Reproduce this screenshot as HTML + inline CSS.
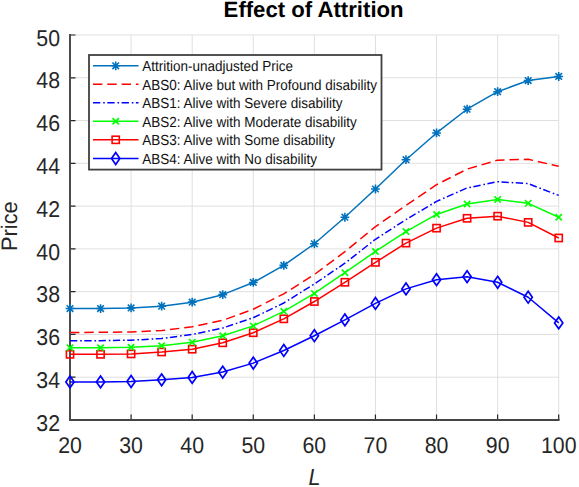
<!DOCTYPE html><html><head><meta charset="utf-8"><style>html,body{margin:0;padding:0;background:#fff;width:579px;height:487px;overflow:hidden}svg{display:block}text{font-family:"Liberation Sans",sans-serif;text-rendering:geometricPrecision}</style></head><body>
<svg width="579" height="487" viewBox="0 0 579 487">
<rect width="579" height="487" fill="#fff"/>
<path d="M131.09 35.00V420.00M192.18 35.00V420.00M253.27 35.00V420.00M314.36 35.00V420.00M375.45 35.00V420.00M436.54 35.00V420.00M497.63 35.00V420.00M558.72 35.00V420.00M70.00 377.22H558.72M70.00 334.45H558.72M70.00 291.67H558.72M70.00 248.89H558.72M70.00 206.11H558.72M70.00 163.33H558.72M70.00 120.56H558.72M70.00 77.78H558.72M70.00 35.00H558.72" stroke="#dfdfdf" stroke-width="1" fill="none"/>
<path d="M70.00 420.00V414.50M131.09 420.00V414.50M192.18 420.00V414.50M253.27 420.00V414.50M314.36 420.00V414.50M375.45 420.00V414.50M436.54 420.00V414.50M497.63 420.00V414.50M558.72 420.00V414.50M70.00 420.00H75.50M70.00 377.22H75.50M70.00 334.45H75.50M70.00 291.67H75.50M70.00 248.89H75.50M70.00 206.11H75.50M70.00 163.33H75.50M70.00 120.56H75.50M70.00 77.78H75.50M70.00 35.00H75.50" stroke="#262626" stroke-width="1.2" fill="none"/>
<path d="M70.00 34.00V420.00H559.52" stroke="#454545" stroke-width="1.9" fill="none"/>
<text transform="translate(70.00 453) scale(1 1.065)" font-size="21.3" fill="#262626" text-anchor="middle">20</text>
<text transform="translate(131.09 453) scale(1 1.065)" font-size="21.3" fill="#262626" text-anchor="middle">30</text>
<text transform="translate(192.18 453) scale(1 1.065)" font-size="21.3" fill="#262626" text-anchor="middle">40</text>
<text transform="translate(253.27 453) scale(1 1.065)" font-size="21.3" fill="#262626" text-anchor="middle">50</text>
<text transform="translate(314.36 453) scale(1 1.065)" font-size="21.3" fill="#262626" text-anchor="middle">60</text>
<text transform="translate(375.45 453) scale(1 1.065)" font-size="21.3" fill="#262626" text-anchor="middle">70</text>
<text transform="translate(436.54 453) scale(1 1.065)" font-size="21.3" fill="#262626" text-anchor="middle">80</text>
<text transform="translate(497.63 453) scale(1 1.065)" font-size="21.3" fill="#262626" text-anchor="middle">90</text>
<text transform="translate(558.72 453) scale(1 1.065)" font-size="21.3" fill="#262626" text-anchor="middle">100</text>
<text transform="translate(60 430.70) scale(1 1.07)" font-size="21.3" fill="#262626" text-anchor="end">32</text>
<text transform="translate(60 387.92) scale(1 1.07)" font-size="21.3" fill="#262626" text-anchor="end">34</text>
<text transform="translate(60 345.15) scale(1 1.07)" font-size="21.3" fill="#262626" text-anchor="end">36</text>
<text transform="translate(60 302.37) scale(1 1.07)" font-size="21.3" fill="#262626" text-anchor="end">38</text>
<text transform="translate(60 259.59) scale(1 1.07)" font-size="21.3" fill="#262626" text-anchor="end">40</text>
<text transform="translate(60 216.81) scale(1 1.07)" font-size="21.3" fill="#262626" text-anchor="end">42</text>
<text transform="translate(60 174.03) scale(1 1.07)" font-size="21.3" fill="#262626" text-anchor="end">44</text>
<text transform="translate(60 131.26) scale(1 1.07)" font-size="21.3" fill="#262626" text-anchor="end">46</text>
<text transform="translate(60 88.48) scale(1 1.07)" font-size="21.3" fill="#262626" text-anchor="end">48</text>
<text transform="translate(60 45.70) scale(1 1.07)" font-size="21.3" fill="#262626" text-anchor="end">50</text>
<text x="313.6" y="16.7" font-size="22.15" font-weight="bold" fill="#000" text-anchor="middle">Effect of Attrition</text>
<text transform="translate(16.9 226.1) rotate(-90) scale(1 1.03)" font-size="21.8" fill="#262626" text-anchor="middle">Price</text>
<text transform="translate(314.6 485) scale(1 1.08)" font-size="21.5" font-style="italic" fill="#262626" text-anchor="middle">L</text>
<polyline points="70.00,381.93 100.55,381.93 131.09,381.50 161.63,379.79 192.18,377.44 222.72,372.09 253.27,363.11 283.81,350.49 314.36,335.73 344.90,319.90 375.45,303.43 406.00,288.89 436.54,279.69 467.08,276.70 497.63,282.26 528.17,297.23 558.72,322.90" stroke="#0000ff" stroke-width="1.5" fill="none" stroke-linejoin="round"/>
<path d="M70.00 376.03L74.15 381.93L70.00 387.83L65.85 381.93Z" stroke="#0000ff" stroke-width="1.7" fill="none"/>
<path d="M100.55 376.03L104.70 381.93L100.55 387.83L96.39 381.93Z" stroke="#0000ff" stroke-width="1.7" fill="none"/>
<path d="M131.09 375.60L135.24 381.50L131.09 387.40L126.94 381.50Z" stroke="#0000ff" stroke-width="1.7" fill="none"/>
<path d="M161.63 373.89L165.78 379.79L161.63 385.69L157.48 379.79Z" stroke="#0000ff" stroke-width="1.7" fill="none"/>
<path d="M192.18 371.54L196.33 377.44L192.18 383.34L188.03 377.44Z" stroke="#0000ff" stroke-width="1.7" fill="none"/>
<path d="M222.72 366.19L226.88 372.09L222.72 377.99L218.57 372.09Z" stroke="#0000ff" stroke-width="1.7" fill="none"/>
<path d="M253.27 357.21L257.42 363.11L253.27 369.01L249.12 363.11Z" stroke="#0000ff" stroke-width="1.7" fill="none"/>
<path d="M283.81 344.59L287.96 350.49L283.81 356.39L279.67 350.49Z" stroke="#0000ff" stroke-width="1.7" fill="none"/>
<path d="M314.36 329.83L318.51 335.73L314.36 341.63L310.21 335.73Z" stroke="#0000ff" stroke-width="1.7" fill="none"/>
<path d="M344.90 314.00L349.05 319.90L344.90 325.80L340.75 319.90Z" stroke="#0000ff" stroke-width="1.7" fill="none"/>
<path d="M375.45 297.53L379.60 303.43L375.45 309.33L371.30 303.43Z" stroke="#0000ff" stroke-width="1.7" fill="none"/>
<path d="M406.00 282.99L410.14 288.89L406.00 294.79L401.85 288.89Z" stroke="#0000ff" stroke-width="1.7" fill="none"/>
<path d="M436.54 273.79L440.69 279.69L436.54 285.59L432.39 279.69Z" stroke="#0000ff" stroke-width="1.7" fill="none"/>
<path d="M467.08 270.80L471.23 276.70L467.08 282.60L462.94 276.70Z" stroke="#0000ff" stroke-width="1.7" fill="none"/>
<path d="M497.63 276.36L501.78 282.26L497.63 288.16L493.48 282.26Z" stroke="#0000ff" stroke-width="1.7" fill="none"/>
<path d="M528.17 291.33L532.32 297.23L528.17 303.13L524.02 297.23Z" stroke="#0000ff" stroke-width="1.7" fill="none"/>
<path d="M558.72 317.00L562.87 322.90L558.72 328.80L554.57 322.90Z" stroke="#0000ff" stroke-width="1.7" fill="none"/>
<polyline points="70.00,354.34 100.55,354.34 131.09,353.91 161.63,351.98 192.18,349.20 222.72,342.79 253.27,332.73 283.81,318.83 314.36,301.51 344.90,282.26 375.45,262.37 406.00,243.11 436.54,228.14 467.08,218.30 497.63,216.16 528.17,222.37 558.72,237.98" stroke="#ff0000" stroke-width="1.5" fill="none" stroke-linejoin="round"/>
<rect x="66.40" y="350.74" width="7.20" height="7.20" stroke="#ff0000" stroke-width="1.6" fill="none"/>
<rect x="96.95" y="350.74" width="7.20" height="7.20" stroke="#ff0000" stroke-width="1.6" fill="none"/>
<rect x="127.49" y="350.31" width="7.20" height="7.20" stroke="#ff0000" stroke-width="1.6" fill="none"/>
<rect x="158.03" y="348.38" width="7.20" height="7.20" stroke="#ff0000" stroke-width="1.6" fill="none"/>
<rect x="188.58" y="345.60" width="7.20" height="7.20" stroke="#ff0000" stroke-width="1.6" fill="none"/>
<rect x="219.12" y="339.19" width="7.20" height="7.20" stroke="#ff0000" stroke-width="1.6" fill="none"/>
<rect x="249.67" y="329.13" width="7.20" height="7.20" stroke="#ff0000" stroke-width="1.6" fill="none"/>
<rect x="280.21" y="315.23" width="7.20" height="7.20" stroke="#ff0000" stroke-width="1.6" fill="none"/>
<rect x="310.76" y="297.91" width="7.20" height="7.20" stroke="#ff0000" stroke-width="1.6" fill="none"/>
<rect x="341.30" y="278.66" width="7.20" height="7.20" stroke="#ff0000" stroke-width="1.6" fill="none"/>
<rect x="371.85" y="258.77" width="7.20" height="7.20" stroke="#ff0000" stroke-width="1.6" fill="none"/>
<rect x="402.39" y="239.51" width="7.20" height="7.20" stroke="#ff0000" stroke-width="1.6" fill="none"/>
<rect x="432.94" y="224.54" width="7.20" height="7.20" stroke="#ff0000" stroke-width="1.6" fill="none"/>
<rect x="463.48" y="214.70" width="7.20" height="7.20" stroke="#ff0000" stroke-width="1.6" fill="none"/>
<rect x="494.03" y="212.56" width="7.20" height="7.20" stroke="#ff0000" stroke-width="1.6" fill="none"/>
<rect x="524.57" y="218.77" width="7.20" height="7.20" stroke="#ff0000" stroke-width="1.6" fill="none"/>
<rect x="555.12" y="234.38" width="7.20" height="7.20" stroke="#ff0000" stroke-width="1.6" fill="none"/>
<polyline points="70.00,347.71 100.55,347.71 131.09,347.28 161.63,345.78 192.18,342.15 222.72,335.73 253.27,325.89 283.81,311.35 314.36,293.38 344.90,272.63 375.45,251.46 406.00,231.56 436.54,214.45 467.08,203.97 497.63,199.48 528.17,203.33 558.72,217.23" stroke="#00ff00" stroke-width="1.5" fill="none" stroke-linejoin="round"/>
<path d="M66.85 344.56L73.15 350.86M66.85 350.86L73.15 344.56" stroke="#00ff00" stroke-width="1.7" fill="none"/>
<path d="M97.39 344.56L103.70 350.86M97.39 350.86L103.70 344.56" stroke="#00ff00" stroke-width="1.7" fill="none"/>
<path d="M127.94 344.13L134.24 350.43M127.94 350.43L134.24 344.13" stroke="#00ff00" stroke-width="1.7" fill="none"/>
<path d="M158.48 342.63L164.78 348.93M158.48 348.93L164.78 342.63" stroke="#00ff00" stroke-width="1.7" fill="none"/>
<path d="M189.03 339.00L195.33 345.30M189.03 345.30L195.33 339.00" stroke="#00ff00" stroke-width="1.7" fill="none"/>
<path d="M219.57 332.58L225.88 338.88M219.57 338.88L225.88 332.58" stroke="#00ff00" stroke-width="1.7" fill="none"/>
<path d="M250.12 322.74L256.42 329.04M250.12 329.04L256.42 322.74" stroke="#00ff00" stroke-width="1.7" fill="none"/>
<path d="M280.67 308.20L286.96 314.50M280.67 314.50L286.96 308.20" stroke="#00ff00" stroke-width="1.7" fill="none"/>
<path d="M311.21 290.23L317.51 296.53M311.21 296.53L317.51 290.23" stroke="#00ff00" stroke-width="1.7" fill="none"/>
<path d="M341.75 269.48L348.05 275.78M341.75 275.78L348.05 269.48" stroke="#00ff00" stroke-width="1.7" fill="none"/>
<path d="M372.30 248.31L378.60 254.61M372.30 254.61L378.60 248.31" stroke="#00ff00" stroke-width="1.7" fill="none"/>
<path d="M402.85 228.41L409.14 234.71M402.85 234.71L409.14 228.41" stroke="#00ff00" stroke-width="1.7" fill="none"/>
<path d="M433.39 211.30L439.69 217.60M433.39 217.60L439.69 211.30" stroke="#00ff00" stroke-width="1.7" fill="none"/>
<path d="M463.94 200.82L470.23 207.12M463.94 207.12L470.23 200.82" stroke="#00ff00" stroke-width="1.7" fill="none"/>
<path d="M494.48 196.33L500.78 202.63M494.48 202.63L500.78 196.33" stroke="#00ff00" stroke-width="1.7" fill="none"/>
<path d="M525.02 200.18L531.32 206.48M525.02 206.48L531.32 200.18" stroke="#00ff00" stroke-width="1.7" fill="none"/>
<path d="M555.57 214.08L561.87 220.38M555.57 220.38L561.87 214.08" stroke="#00ff00" stroke-width="1.7" fill="none"/>
<polyline points="70.00,340.86 100.55,340.65 131.09,340.22 161.63,338.51 192.18,334.45 222.72,328.03 253.27,317.76 283.81,303.00 314.36,283.97 344.90,263.22 375.45,239.26 406.00,219.59 436.54,201.41 467.08,187.93 497.63,181.73 528.17,183.65 558.72,195.42" stroke="#0000ff" stroke-width="1.5" fill="none" stroke-linejoin="round" stroke-dasharray="7.3 2.9 1.6 2.5"/>
<polyline points="70.00,332.52 100.55,332.31 131.09,331.88 161.63,330.60 192.18,326.75 222.72,320.33 253.27,309.21 283.81,293.81 314.36,274.56 344.90,251.67 375.45,226.65 406.00,205.47 436.54,184.72 467.08,169.11 497.63,160.13 528.17,159.27 558.72,166.33" stroke="#ff0000" stroke-width="1.5" fill="none" stroke-linejoin="round" stroke-dasharray="9.4 4.9"/>
<polyline points="70.00,308.57 100.55,308.57 131.09,307.92 161.63,306.21 192.18,302.15 222.72,294.66 253.27,282.47 283.81,265.36 314.36,243.76 344.90,217.23 375.45,189.00 406.00,159.70 436.54,132.96 467.08,109.22 497.63,91.68 528.17,80.56 558.72,76.49" stroke="#0072bd" stroke-width="1.5" fill="none" stroke-linejoin="round"/>
<path d="M70.00 304.17V312.97M65.60 308.57H74.40M66.70 305.27L73.30 311.87M66.70 311.87L73.30 305.27" stroke="#0072bd" stroke-width="1.6" fill="none"/>
<path d="M100.55 304.17V312.97M96.14 308.57H104.95M97.25 305.27L103.84 311.87M97.25 311.87L103.84 305.27" stroke="#0072bd" stroke-width="1.6" fill="none"/>
<path d="M131.09 303.52V312.32M126.69 307.92H135.49M127.79 304.62L134.39 311.22M127.79 311.22L134.39 304.62" stroke="#0072bd" stroke-width="1.6" fill="none"/>
<path d="M161.63 301.81V310.61M157.23 306.21H166.03M158.33 302.91L164.94 309.51M158.33 309.51L164.94 302.91" stroke="#0072bd" stroke-width="1.6" fill="none"/>
<path d="M192.18 297.75V306.55M187.78 302.15H196.58M188.88 298.85L195.48 305.45M188.88 305.45L195.48 298.85" stroke="#0072bd" stroke-width="1.6" fill="none"/>
<path d="M222.72 290.26V299.06M218.32 294.66H227.12M219.42 291.36L226.03 297.96M219.42 297.96L226.03 291.36" stroke="#0072bd" stroke-width="1.6" fill="none"/>
<path d="M253.27 278.07V286.87M248.87 282.47H257.67M249.97 279.17L256.57 285.77M249.97 285.77L256.57 279.17" stroke="#0072bd" stroke-width="1.6" fill="none"/>
<path d="M283.81 260.96V269.76M279.42 265.36H288.21M280.51 262.06L287.12 268.66M280.51 268.66L287.12 262.06" stroke="#0072bd" stroke-width="1.6" fill="none"/>
<path d="M314.36 239.36V248.16M309.96 243.76H318.76M311.06 240.46L317.66 247.06M311.06 247.06L317.66 240.46" stroke="#0072bd" stroke-width="1.6" fill="none"/>
<path d="M344.90 212.83V221.63M340.50 217.23H349.30M341.60 213.93L348.20 220.53M341.60 220.53L348.20 213.93" stroke="#0072bd" stroke-width="1.6" fill="none"/>
<path d="M375.45 184.60V193.40M371.05 189.00H379.85M372.15 185.70L378.75 192.30M372.15 192.30L378.75 185.70" stroke="#0072bd" stroke-width="1.6" fill="none"/>
<path d="M406.00 155.30V164.10M401.60 159.70H410.39M402.69 156.40L409.30 163.00M402.69 163.00L409.30 156.40" stroke="#0072bd" stroke-width="1.6" fill="none"/>
<path d="M436.54 128.56V137.36M432.14 132.96H440.94M433.24 129.66L439.84 136.26M433.24 136.26L439.84 129.66" stroke="#0072bd" stroke-width="1.6" fill="none"/>
<path d="M467.08 104.82V113.62M462.69 109.22H471.48M463.78 105.92L470.38 112.52M463.78 112.52L470.38 105.92" stroke="#0072bd" stroke-width="1.6" fill="none"/>
<path d="M497.63 87.28V96.08M493.23 91.68H502.03M494.33 88.38L500.93 94.98M494.33 94.98L500.93 88.38" stroke="#0072bd" stroke-width="1.6" fill="none"/>
<path d="M528.17 76.16V84.96M523.77 80.56H532.57M524.88 77.26L531.47 83.86M524.88 83.86L531.47 77.26" stroke="#0072bd" stroke-width="1.6" fill="none"/>
<path d="M558.72 72.09V80.89M554.32 76.49H563.12M555.42 73.19L562.02 79.79M555.42 79.79L562.02 73.19" stroke="#0072bd" stroke-width="1.6" fill="none"/>
<rect x="89" y="55" width="292.5" height="114.6" fill="#fff" stroke="#404040" stroke-width="1.8"/>
<path d="M93 65.80H138.5" stroke="#0072bd" stroke-width="1.4" fill="none"/>
<path d="M115.70 61.40V70.20M111.30 65.80H120.10M112.40 62.50L119.00 69.10M112.40 69.10L119.00 62.50" stroke="#0072bd" stroke-width="1.6" fill="none"/>
<text transform="translate(142.2 71.00) scale(1 1.08)" font-size="13.5" fill="#111">Attrition-unadjusted Price</text>
<path d="M93 84.30H138.5" stroke="#ff0000" stroke-width="1.4" fill="none" stroke-dasharray="9.4 4.9"/>
<text transform="translate(142.2 89.50) scale(1 1.08)" font-size="13.5" fill="#111">ABS0: Alive but with Profound disability</text>
<path d="M93 102.80H138.5" stroke="#0000ff" stroke-width="1.4" fill="none" stroke-dasharray="7.3 2.9 1.6 2.5"/>
<text transform="translate(142.2 108.00) scale(1 1.08)" font-size="13.5" fill="#111">ABS1: Alive with Severe disability</text>
<path d="M93 121.30H138.5" stroke="#00ff00" stroke-width="1.4" fill="none"/>
<path d="M112.55 118.15L118.85 124.45M112.55 124.45L118.85 118.15" stroke="#00ff00" stroke-width="1.7" fill="none"/>
<text transform="translate(142.2 126.50) scale(1 1.08)" font-size="13.5" fill="#111">ABS2: Alive with Moderate disability</text>
<path d="M93 139.80H138.5" stroke="#ff0000" stroke-width="1.4" fill="none"/>
<rect x="112.10" y="136.20" width="7.20" height="7.20" stroke="#ff0000" stroke-width="1.6" fill="none"/>
<text transform="translate(142.2 145.00) scale(1 1.08)" font-size="13.5" fill="#111">ABS3: Alive with Some disability</text>
<path d="M93 158.50H138.5" stroke="#0000ff" stroke-width="1.4" fill="none"/>
<path d="M115.70 152.60L119.85 158.50L115.70 164.40L111.55 158.50Z" stroke="#0000ff" stroke-width="1.7" fill="none"/>
<text transform="translate(142.2 163.70) scale(1 1.08)" font-size="13.5" fill="#111">ABS4: Alive with No disability</text>
</svg></body></html>
